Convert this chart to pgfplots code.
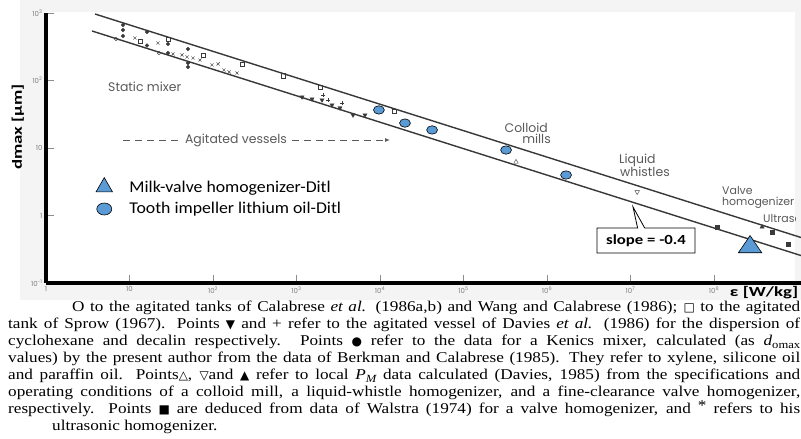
\documentclass[border=0pt]{standalone}
\usepackage{pgfplots}
\pgfplotsset{compat=1.18}
\usepackage{fontspec}
\setmainfont{Carlito}
\newfontfamily\wfont[FakeStretch=1.08]{Carlito}
\newfontfamily\bfont[FakeStretch=1.2]{Carlito}
\newfontfamily\tfont[FakeStretch=1.35]{Carlito}
\newfontfamily\capfont[FakeStretch=1.15]{Liberation Serif}
\newfontfamily\scanfont{Poppins}
\newfontfamily\symfont{DejaVu Sans}
\usetikzlibrary{shapes.callouts,arrows.meta}
\definecolor{mblue}{HTML}{5B9BD5}
\definecolor{scang}{HTML}{3A3A3A}
\definecolor{anng}{HTML}{5A5A5A}
\definecolor{bgg}{HTML}{F4F4F4}
\newcommand{\sym}[1]{{\symfont\fontsize{12}{12}\selectfont #1}}
\newcommand{\capline}[1]{\makebox[792bp][s]{#1}}
\begin{document}
\begin{tikzpicture}[x=1bp,y=1bp]
\useasboundingbox (0,0) rectangle (801,439);
\fill[white] (0,0) rectangle (801,439);
\fill[bgg] (20,139) rectangle (801,439);
\fill[white] (46,156) rectangle (795,427);
\begin{axis}[
  at={(46bp,156bp)}, anchor=south west, scale only axis,
  width=755bp, height=270bp,
  xmode=log, ymode=log,
  xmin=1, xmax=1.1e9, ymin=0.1, ymax=1000,
  axis lines*=left,
  axis line style={line width=3.5bp, black},
  xminorticks=false, yminorticks=false,
  tick align=inside, major tick length=8bp,
  tick style={black!45, line width=0.7bp},
  xtick={1,10,100,1e3,1e4,1e5,1e6,1e7,1e8},
  xticklabels={1,10,10\textsuperscript{2},10\textsuperscript{3},10\textsuperscript{4},10\textsuperscript{5},10\textsuperscript{6},10\textsuperscript{7},10\textsuperscript{8}},
  ytick={0.1,1,10,100,1000},
  yticklabels={10\textsuperscript{-1},1,10,10\textsuperscript{2},10\textsuperscript{3}},
  ticklabel style={font=\scanfont\fontsize{7}{8}\selectfont, text=black!50},
  legend style={at={(rel axis cs:0.066,0.391)}, anchor=north west, draw=none, fill=none,
    font=\wfont\fontsize{16.5}{18}\selectfont, row sep=5bp, inner sep=0pt,
    /tikz/every odd column/.append style={column sep=15bp}},
  legend cell align=left,
]
\addlegendimage{only marks, mark=triangle*, mark size=9.5bp, mark options={fill=mblue, draw=black, line width=0.6bp}}
\addlegendentry{Milk-valve homogenizer-Ditl}
\addlegendimage{only marks, mark=*, mark size=6bp, mark options={fill=mblue, draw=black, line width=0.6bp, xscale=1.25}}
\addlegendentry{Tooth impeller lithium oil-Ditl}
% correlation lines (slope -0.4)
\addplot[forget plot, no markers, color=black!78, line width=1.4bp] coordinates {(3.86,966) (1.1e9,0.472)};
\addplot[forget plot, no markers, color=black!78, line width=1.4bp] coordinates {(3.56,541) (1.1e9,0.255)};
% scanned data: Kenics mixer (filled circles)
\addplot[forget plot, only marks, mark=*, mark size=1.8bp, color=scang] coordinates {
 (8.36,664) (8.36,560) (8.36,456) (16.2,523) (16.2,330) (28.9,348) (28.9,255) (50.2,293) (50.2,181.5) (50.2,158.5)};
% Calabrese (open circles)
\addplot[forget plot, only marks, mark=o, mark size=1.8bp, color=scang] coordinates {(6.89,412) (22.6,255)};
% x marks
\addplot[forget plot, only marks, mark=x, mark size=2.2bp, color=scang] coordinates {
 (11.6,426) (21.9,359) (33.2,247) (42.6,239) (48.9,223) (57.6,215) (69.8,201) (97.2,170) (115,176) (135,143) (156,134) (194,129)};
% Sprow (open squares)
\addplot[forget plot, only marks, mark=square, mark size=2.2bp, color=scang] coordinates {
 (13.4,385) (28.9,412) (75.9,239) (222,176) (689,117) (1910,80.2) (14700,35.3)};
% Davies cyclohexane (filled down triangles)
\addplot[forget plot, only marks, mark=triangle*, mark size=2.4bp, mark options={rotate=180}, color=scang] coordinates {
 (1164,57) (1534,53.2) (2020,51.4) (2660,43.4) (3320,39.2) (4750,30.8) (6610,30.8)};
% Davies decalin (+)
\addplot[forget plot, only marks, mark=+, mark size=2.2bp, color=scang] coordinates {(2080,61) (2380,51.4) (3510,46.4)};
% colloid mill, liquid whistle
\addplot[forget plot, only marks, mark=triangle, mark size=2.6bp, color=scang] coordinates {(4.25e5,6.21)};
\addplot[forget plot, only marks, mark=triangle, mark size=2.6bp, mark options={rotate=180}, color=scang] coordinates {(1.2e7,2.23)};
% Walstra (filled squares)
\addplot[forget plot, only marks, mark=square*, mark size=2bp, color=scang] coordinates {(1.09e8,0.676) (4.95e8,0.570) (7.7e8,0.378)};
% valve homogenizer (filled up triangle)
\addplot[forget plot, only marks, mark=triangle*, mark size=2.4bp, color=scang] coordinates {(3.76e8,0.676)};
% Tooth impeller lithium oil - Ditl
\addplot[forget plot, only marks, mark=*, mark size=4.2bp, mark options={fill=mblue, draw=black, line width=0.6bp, xscale=1.3}] coordinates {
 (9.7e3,36.6) (1.99e4,23.4) (4.2e4,18.5) (3.23e5,9.33) (1.69e6,3.98)};
% Milk-valve homogenizer - Ditl
\addplot[forget plot, only marks, mark=triangle*, mark size=13.5bp, mark options={fill=mblue, draw=black, line width=0.6bp, yscale=0.85}] coordinates {(2.7e8,0.341)};
\end{axis}
% axis titles
\node[rotate=90, font=\tfont\bfseries\fontsize{14}{16}\selectfont] at (18,312) {dmax [µm]};
\node[font=\tfont\bfseries\fontsize{14}{16}\selectfont] at (764,146) {ε [W/kg]};
% annotations from the scanned figure
\begin{scope}
\clip (0,0) rectangle (795,439);
\begin{scope}[every node/.style={font=\scanfont\fontsize{12.5}{13}\selectfont, text=anng, inner sep=0pt}]
\node[anchor=west] at (108,352) {Static mixer};
\node at (236,299) {Agitated vessels};
\node[anchor=east] at (548,311) {Colloid};
\node[anchor=east] at (551,300) {mills};
\node[anchor=west] at (619,279) {Liquid};
\node[anchor=west] at (620,267) {whistles};
\node[anchor=west, font=\scanfont\fontsize{11}{12}\selectfont] at (722,248) {Valve};
\node[anchor=west, font=\scanfont\fontsize{11}{12}\selectfont] at (722,236) {homogenizer};
\node[anchor=west, font=\scanfont\fontsize{11}{12}\selectfont] at (763,221) {Ultrasonic};
\end{scope}
\end{scope}
\draw[anng, line width=0.9bp, dash pattern=on 7bp off 5bp] (123,299) -- (181,299);
\draw[anng, line width=0.9bp, dash pattern=on 7bp off 5bp, -{Latex[length=5bp,width=4bp]}] (292,299) -- (390,299);
\node[rectangle callout, draw=black, fill=white, line width=0.8bp,
  callout absolute pointer={(633bp,232bp)}, minimum width=98bp, minimum height=25bp, inner xsep=5bp,
  font=\bfont\bfseries\fontsize{14}{16}\selectfont] at (646,198.5) {slope = -0.4};
% caption
\begin{scope}[every node/.style={font=\capfont\fontsize{15}{17}\selectfont, inner sep=0pt, anchor=base west}]
\node at (72,127) {\makebox[728bp][s]{O to the agitated tanks of Calabrese \textit{et al.} (1986a,b) and Wang and Calabrese (1986); \sym{□} to the agitated}};
\node at (8,110) {\capline{tank of Sprow (1967). Points \sym{▼} and + refer to the agitated vessel of Davies \textit{et al.} (1986) for the dispersion of}};
\node at (8,93) {\capline{cyclohexane and decalin respectively. Points \sym{●} refer to the data for a Kenics mixer, calculated (as \textit{d}\raisebox{-0.35ex}{\fontsize{11}{11}\selectfont omax}}};
\node at (8,76) {\capline{values) by the present author from the data of Berkman and Calabrese (1985). They refer to xylene, silicone oil}};
\node at (8,59) {\capline{and paraffin oil. Points\sym{△}, \sym{▽}and \sym{▲} refer to local \textit{P}\raisebox{-0.35ex}{\fontsize{11}{11}\selectfont\itshape M} data calculated (Davies, 1985) from the specifications and}};
\node at (8,42) {\capline{operating conditions of a colloid mill, a liquid-whistle homogenizer, and a fine-clearance valve homogenizer,}};
\node at (8,25) {\capline{respectively. Points \sym{■} are deduced from data of Walstra (1974) for a valve homogenizer, and \raisebox{0.5ex}{*} refers to his}};
\node at (52,8) {ultrasonic homogenizer.};
\end{scope}
\end{tikzpicture}
\end{document}
